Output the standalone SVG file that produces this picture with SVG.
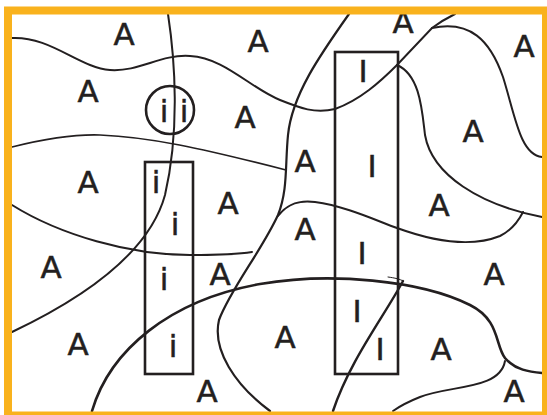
<svg xmlns="http://www.w3.org/2000/svg" width="547" height="415" viewBox="0 0 547 415">
<style>
.ln{fill:none;stroke:#231f20;stroke-width:2;stroke-linecap:round}
.bx{fill:none;stroke:#231f20;stroke-width:2.6}
.t{font-family:"DejaVu Sans","Liberation Sans",sans-serif;font-size:31px;fill:#231f20;stroke:#231f20;stroke-width:0.5;text-anchor:middle}
</style>
<rect x="0" y="0" width="547" height="415" fill="#ffffff"/>
<g id="connectors">
<path class="ln" d="M12,38 C50,36 80,68 110,70 C140,72 160,54 190,56 C225,58 250,88 280,100 C300,108 315,114 335,109 C360,100 380,82 397,65 L432,28 C440,22 447,18 455,14"/>
<path class="ln" d="M432,28 C470,20 490,40 503,77 C515,115 520,155 542,157"/>
<path class="ln" d="M397,65 C420,75 422,110 425,135 C432,175 480,205 542,217"/>
<path class="ln" style="stroke-width:1.6" d="M12,147 C40,140 70,134 100,135 C150,137 200,148 286,170"/>
<path class="ln" style="stroke-width:2.2" d="M349,14 C320,55 292,95 288,135 C285,165 288,190 278,215 C262,250 230,290 219,320 C212,350 235,385 270,411"/>
<path class="ln" d="M168,14 C175,60 180,130 165,195 C150,250 90,295 12,332"/>
<path class="ln" d="M278,216 C288,203 300,200 315,202 C345,206 375,220 397,228 C430,240 470,248 500,236 C510,231 518,222 523,212"/>
<path class="ln" d="M12,205 C60,235 130,255 190,255 C220,255 240,254 252,252"/>
<path class="ln" style="stroke-width:2.6" d="M92,411 C110,350 170,300 260,284 C330,272 420,280 470,305 C500,320 495,345 505,358 C515,370 530,372 542,373"/>
<path class="ln" d="M505,361 C500,390 450,385 420,397 C410,401 400,406 393,411"/>
<path class="ln" style="stroke-width:2.4" d="M403,281 C385,315 350,360 333,411"/>
<path class="ln" style="stroke-width:1" d="M388,277 C395,278 400,279 403,281"/>
</g>
<g id="circle-node">
<circle class="bx" cx="170" cy="110" r="24"/>
<text class="t" x="164" y="122">i</text>
<text class="t" x="184" y="122">i</text>
</g>
<g id="box-i">
<rect class="bx" x="145" y="162" width="48" height="212"/>
<text class="t" x="156" y="193">i</text>
<text class="t" x="175" y="235">i</text>
<text class="t" x="164" y="290">i</text>
<text class="t" x="173" y="357">i</text>
</g>
<g id="box-I">
<rect class="bx" x="335" y="52" width="63" height="322"/>
<text class="t" x="363" y="82">I</text>
<text class="t" x="372" y="177">I</text>
<text class="t" x="362" y="264">I</text>
<text class="t" x="357" y="322">I</text>
<text class="t" x="380" y="360">I</text>
</g>
<g id="labels-A">
<text class="t" x="124" y="45">A</text>
<text class="t" x="258" y="52">A</text>
<text class="t" x="403" y="33">A</text>
<text class="t" x="524" y="57">A</text>
<text class="t" x="88" y="102">A</text>
<text class="t" x="245" y="128">A</text>
<text class="t" x="473" y="142">A</text>
<text class="t" x="305" y="172">A</text>
<text class="t" x="88" y="193">A</text>
<text class="t" x="228" y="214">A</text>
<text class="t" x="439" y="216">A</text>
<text class="t" x="305" y="240">A</text>
<text class="t" x="51" y="278">A</text>
<text class="t" x="220" y="285">A</text>
<text class="t" x="494" y="285">A</text>
<text class="t" x="78" y="355">A</text>
<text class="t" x="285" y="348">A</text>
<text class="t" x="441" y="360">A</text>
<text class="t" x="207" y="402">A</text>
<text class="t" x="514" y="402">A</text>
</g>
<g id="frame">
<rect x="8" y="10.5" width="538" height="405" fill="none" stroke="#F9B21D" stroke-width="8"/>
</g>
</svg>
